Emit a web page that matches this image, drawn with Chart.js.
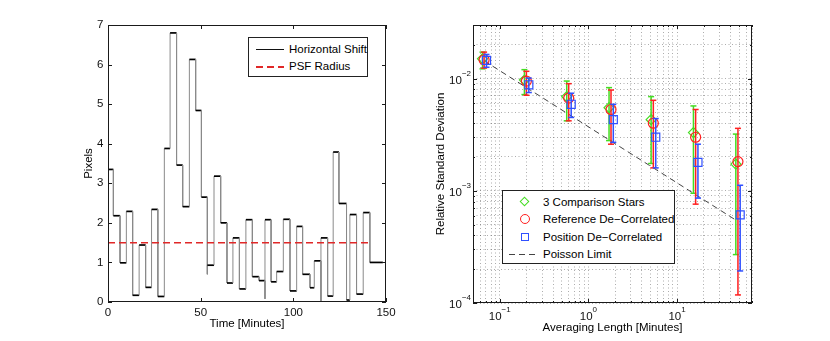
<!DOCTYPE html>
<html>
<head>
<meta charset="utf-8">
<script src="https://cdn.jsdelivr.net/npm/chart.js@4.4.1/dist/chart.umd.min.js"></script>
<style>
  body { margin:0; background:#fff; }
  #wrap { position:relative; width:830px; height:341px; overflow:hidden; font-family:'Liberation Sans', Arial, sans-serif; }
  canvas { position:absolute; top:0; }
  #c1 { left:0; }
  #c2 { left:415px; }
  .legend { position:absolute; box-sizing:border-box; background:#fff; border:1px solid #222; font-size:11.5px; color:#000; z-index:2; }
  .row { position:absolute; left:0; right:0; height:14px; line-height:14px; white-space:nowrap; }
  .row span { position:absolute; left:40px; top:0; }
  .sample { position:absolute; top:7px; height:1px; }
  .mk { position:absolute; box-sizing:border-box; background:transparent; }
</style>
</head>
<body>
<div id="wrap">
  <canvas id="c1" width="415" height="341"></canvas>
  <canvas id="c2" width="415" height="341"></canvas>

  <div class="legend" style="left:248px;top:37px;width:120px;height:40px">
    <div class="row" style="top:4px">
      <div class="sample" style="left:7px;width:28px;background:#111"></div>
      <span>Horizontal Shift</span>
    </div>
    <div class="row" style="top:21px">
      <div class="sample" style="left:7px;width:28px;height:1.5px;background:repeating-linear-gradient(to right,#e02828 0 7px,transparent 7px 11px)"></div>
      <span>PSF Radius</span>
    </div>
  </div>

  <div class="legend" style="left:502px;top:190px;width:173px;height:74px">
    <div class="row" style="top:4px">
      <div class="mk" style="left:18px;top:3px;width:7px;height:7px;border:1px solid #44dd22;transform:rotate(45deg)"></div>
      <span>3 Comparison Stars</span>
    </div>
    <div class="row" style="top:21px">
      <div class="mk" style="left:17px;top:2px;width:10px;height:10px;border:1px solid #ff2020;border-radius:50%"></div>
      <span>Reference De&minus;Correlated</span>
    </div>
    <div class="row" style="top:39px">
      <div class="mk" style="left:18px;top:3px;width:8px;height:8px;border:1px solid #3050ff"></div>
      <span>Position De&minus;Correlated</span>
    </div>
    <div class="row" style="top:56px">
      <div class="sample" style="left:6px;width:29px;background:repeating-linear-gradient(to right,#444 0 6px,transparent 6px 10px)"></div>
      <span>Poisson Limit</span>
    </div>
  </div>
</div>

<script>
// Left panel: horizontal shift, one value per plateau (start time in minutes)
const stepTimes = [0, 2.9, 6.5, 9.9, 13.3, 16.8, 20.3, 23.5, 26.9, 30.4, 33.5, 37.0, 40.3, 43.9, 47.3, 50.4,
  53.6, 53.6, 57.2, 60.8, 64.2, 67.4, 70.9, 74.4, 77.9, 81.5, 84.7, 84.7, 88.0, 91.0, 94.6, 98.2, 101.8,
  105.0, 109.0, 111.3, 114.9, 114.9, 118.5, 121.5, 124.6, 128.7, 130.5, 134.1, 137.7, 141.3];
const stepValues = [3.35, 2.18, 0.99, 2.29, 0.17, 1.44, 0.37, 2.34, 0.14, 3.88, 6.80, 3.46, 2.41, 6.13, 4.84, 2.65,
  0.70, 0.93, 3.18, 2.00, 0.48, 1.62, 0.33, 2.08, 0.64, 0.54, 0.08, 2.08, 0.51, 0.77, 2.09, 0.28, 1.91,
  0.70, 0.36, 1.04, 0.00, 1.62, 0.15, 3.79, 2.49, 0.05, 2.21, 0.20, 2.26, 1.00];
const endTime = 148.3;
const psfRadius = 1.5;
const psfEnd = 141.4;

// Right panel: relative standard deviation vs averaging length
const compX  = [0.064, 0.19, 0.57, 1.71, 5.1, 15.3, 46];
const compY  = [0.0150, 0.0097, 0.0069, 0.0055, 0.0043, 0.0033, 0.00173];
const compLo = [0.0122, 0.0072, 0.0042, 0.0028, 0.00175, 0.00095, 0.00027];
const compHi = [0.0172, 0.0120, 0.0095, 0.0083, 0.0069, 0.0057, 0.0032];

const refX  = [0.0667, 0.2, 0.6, 1.8, 5.4, 16.2, 48.6];
const refY  = [0.0147, 0.0095, 0.0067, 0.0053, 0.0040, 0.0030, 0.00182];
const refLo = [0.0124, 0.0071, 0.0042, 0.0026, 0.0016, 0.00076, 0.000118];
const refHi = [0.0172, 0.0116, 0.0090, 0.0079, 0.0064, 0.0053, 0.0036];

const posX  = [0.071, 0.213, 0.64, 1.91, 5.75, 17.2, 51.5];
const posY  = [0.0145, 0.0088, 0.0059, 0.0043, 0.0030, 0.00179, 0.00061];
const posLo = [0.0126, 0.0075, 0.0045, 0.0027, 0.0016, 0.00086, 0.000193];
const posHi = [0.0164, 0.0101, 0.0074, 0.0059, 0.0044, 0.0026, 0.00112];

const poissonX = [0.0667, 45];
const poissonY = [0.0144, 0.000554];

const FONT = {family: "'Liberation Sans', Arial, sans-serif", size: 11.5};
const GREEN = '#44dd22', RED = '#ff2020', BLUE = '#3050ff';

// Helpers
const pts = (xs, ys) => xs.map((x, i) => ({x, y: ys[i]}));
const bars = (xs, lo, hi) => xs.flatMap((x, i) => [{x, y: lo[i]}, {x, y: hi[i]}, {x, y: null}]);
const sup = e => (e < 0 ? '\u2212' + (-e) : String(e));

const shiftPts = [];
stepTimes.forEach((t, i) => {
  const tEnd = i < stepTimes.length - 1 ? stepTimes[i + 1] : endTime;
  shiftPts.push({x: t, y: stepValues[i]}, {x: tEnd, y: stepValues[i]});
});

function logTicks(lo, hi) {
  const out = [];
  for (let e = Math.floor(Math.log10(lo)); e <= Math.ceil(Math.log10(hi)); e++) {
    for (let m = 1; m < 10; m++) {
      const v = +(m * Math.pow(10, e)).toPrecision(6);
      if (v >= lo * 0.999 && v <= hi * 1.001) out.push({value: v, major: m === 1});
    }
  }
  return out;
}

// Box around the plot, inward ticks, and 10^n labels for log axes
const matlabAxes = {
  id: 'matlabAxes',
  afterDraw(chart, args, opts) {
    const {ctx, chartArea: a, scales: {x, y}} = chart;
    ctx.save();
    ctx.strokeStyle = '#1a1a1a';
    ctx.lineWidth = 1;
    ctx.strokeRect(a.left + 0.5, a.top + 0.5, a.right - a.left - 1, a.bottom - a.top - 1);
    ctx.beginPath();
    x.ticks.forEach(t => {
      const px = Math.round(x.getPixelForValue(t.value)) + 0.5;
      const len = opts.log ? (t.major ? 4 : 2) : 4;
      ctx.moveTo(px, a.bottom); ctx.lineTo(px, a.bottom - len);
      ctx.moveTo(px, a.top); ctx.lineTo(px, a.top + len);
    });
    y.ticks.forEach(t => {
      const py = Math.round(y.getPixelForValue(t.value)) + 0.5;
      const len = opts.log ? (t.major ? 4 : 2) : 4;
      ctx.moveTo(a.left, py); ctx.lineTo(a.left + len, py);
      ctx.moveTo(a.right, py); ctx.lineTo(a.right - len, py);
    });
    ctx.stroke();

    if (opts.log) {
      ctx.fillStyle = '#111';
      ctx.textBaseline = 'middle';
      const big = "11.5px 'Liberation Sans', Arial, sans-serif";
      const small = "8px 'Liberation Sans', Arial, sans-serif";
      x.ticks.filter(t => t.major).forEach(t => {
        const e = Math.round(Math.log10(t.value));
        ctx.font = big; const w10 = ctx.measureText('10').width;
        ctx.font = small; const we = ctx.measureText(sup(e)).width;
        const left = x.getPixelForValue(t.value) - (w10 + we) / 2;
        ctx.textAlign = 'left';
        ctx.font = big; ctx.fillText('10', left, a.bottom + 14);
        ctx.font = small; ctx.fillText(sup(e), left + w10, a.bottom + 6.5);
      });
      y.ticks.filter(t => t.major).forEach(t => {
        const e = Math.round(Math.log10(t.value));
        const py = y.getPixelForValue(t.value);
        ctx.font = small; const we = ctx.measureText(sup(e)).width;
        const right = a.left - 2;
        ctx.textAlign = 'left';
        ctx.fillText(sup(e), right - we, py - 5);
        ctx.textAlign = 'right';
        ctx.font = big; ctx.fillText('10', right - we, py + 2);
      });
    }
    ctx.restore();
  }
};

new Chart(document.getElementById('c1'), {
  type: 'line',
  data: {
    datasets: [
      {label: 'PSF Radius', data: [{x: 0, y: psfRadius}, {x: psfEnd, y: psfRadius}], order: 0,
        borderColor: '#e02828', borderWidth: 1.5, borderDash: [7, 4], pointRadius: 0},
      {label: 'Horizontal Shift', data: shiftPts, order: 1, pointRadius: 0, borderWidth: 1, tension: 0,
        borderColor: '#000',
        segment: {
          borderColor: c => c.p0.parsed.y === c.p1.parsed.y ? '#000' : '#8a8a8a',
          borderWidth: c => c.p0.parsed.y === c.p1.parsed.y ? 1.7 : 1
        }}
    ]
  },
  options: {
    responsive: false, animation: false,
    layout: {padding: {left: 82, right: 29, top: 25, bottom: 10}},
    plugins: {legend: {display: false}, tooltip: {enabled: false}, matlabAxes: {log: false}},
    scales: {
      x: {type: 'linear', min: 0, max: 150,
        ticks: {stepSize: 50, padding: 4, color: '#111', font: FONT, maxRotation: 0},
        grid: {display: false, drawTicks: false}, border: {display: false},
        title: {display: true, text: 'Time [Minutes]', padding: 0, color: '#000', font: FONT},
        afterFit: s => { s.height = 29; }},
      y: {min: 0, max: 7,
        ticks: {stepSize: 1, padding: 4.5, color: '#111', font: FONT},
        grid: {display: false, drawTicks: false}, border: {display: false},
        title: {display: true, text: 'Pixels', padding: 0, color: '#000', font: FONT},
        afterFit: s => { s.width = 26; }}
    }
  },
  plugins: [matlabAxes]
});

const barSet = (label, xs, lo, hi, color, order) => ({
  label, data: bars(xs, lo, hi), order, borderColor: color, borderWidth: 1.5, spanGaps: false,
  pointStyle: 'line', pointRadius: 3, pointBorderColor: color, pointBorderWidth: 1.5
});
const markSet = (label, xs, ys, color, style, r, order) => ({
  label, data: pts(xs, ys), order, showLine: false, pointStyle: style, pointRadius: r,
  pointBorderColor: color, pointBackgroundColor: 'rgba(0,0,0,0)', pointBorderWidth: 1.2
});

new Chart(document.getElementById('c2'), {
  type: 'line',
  data: {
    datasets: [
      markSet('Position De-Correlated', posX, posY, BLUE, 'rect', 5.7, 1),
      barSet('pos err', posX, posLo, posHi, BLUE, 2),
      markSet('Reference De-Correlated', refX, refY, RED, 'circle', 5, 3),
      barSet('ref err', refX, refLo, refHi, RED, 4),
      markSet('3 Comparison Stars', compX, compY, GREEN, 'rectRot', 5, 5),
      barSet('comp err', compX, compLo, compHi, GREEN, 6),
      {label: 'Poisson Limit', data: pts(poissonX, poissonY), order: 7, borderColor: '#444',
        borderWidth: 1, borderDash: [6, 4], pointRadius: 0}
    ]
  },
  options: {
    responsive: false, animation: false,
    layout: {padding: {left: 19, right: 78, top: 25, bottom: 6}},
    plugins: {legend: {display: false}, tooltip: {enabled: false}, matlabAxes: {log: true}},
    scales: {
      x: {type: 'logarithmic', min: 0.05, max: 70,
        ticks: {display: false},
        grid: {color: 'rgba(0,0,0,0.32)', lineWidth: 1, drawTicks: false},
        border: {display: false, dash: [1, 2.5]},
        title: {display: true, text: 'Averaging Length [Minutes]', padding: 0, color: '#000', font: FONT},
        afterBuildTicks: s => { s.ticks = logTicks(0.05, 70); },
        afterFit: s => { s.height = 32; }},
      y: {type: 'logarithmic', min: 1e-4, max: 0.03,
        ticks: {display: false},
        grid: {color: 'rgba(0,0,0,0.32)', lineWidth: 1, drawTicks: false},
        border: {display: false, dash: [1, 2.5]},
        title: {display: true, text: 'Relative Standard Deviation', padding: 0, color: '#000', font: FONT},
        afterBuildTicks: s => { s.ticks = logTicks(1e-4, 0.03); },
        afterFit: s => { s.width = 39; }}
    }
  },
  plugins: [matlabAxes]
});
</script>
</body>
</html>
